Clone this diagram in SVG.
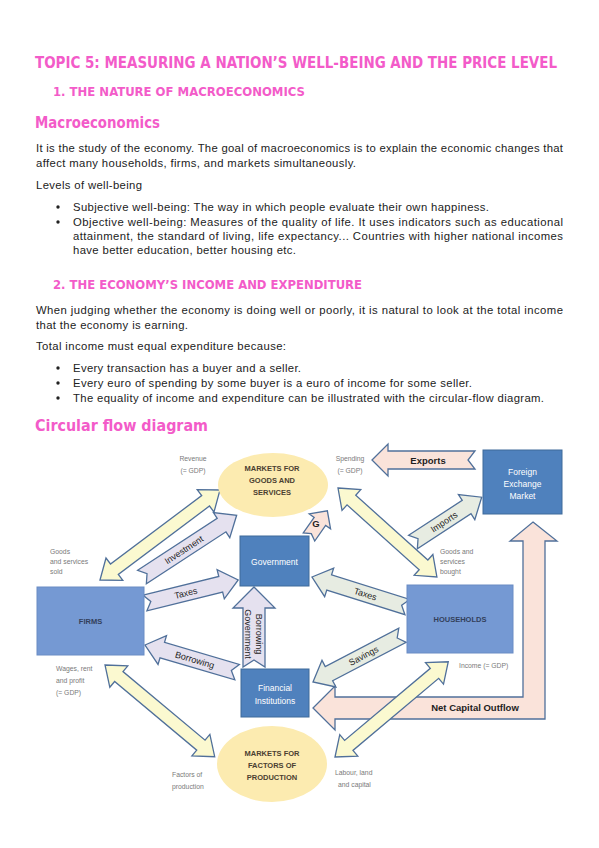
<svg xmlns="http://www.w3.org/2000/svg" width="599" height="848" viewBox="0 0 599 848">
<style>
.h{fill:#f35bc9;font-family:"DejaVu Sans Condensed","DejaVu Sans",sans-serif;font-weight:bold;}
.b{fill:#222;font-family:"Liberation Sans",Arial,sans-serif;font-size:11.3px;}
.arr{stroke:#50709a;stroke-width:1.3;stroke-linejoin:miter;}
.yel{fill:#fbf9d0;}
.lav{fill:#e5e1ef;}
.grn{fill:#e7ece2;}
.pnk{fill:#fae3da;}
.box{fill:#4f81bd;stroke:#3f6a9a;stroke-width:1;}
.box2{fill:#7599d3;stroke:#6a8cc4;stroke-width:1;}
.ell{fill:#fcebb0;}
.lbl{fill:#7a7a7a;font-family:"Liberation Sans",Arial,sans-serif;font-size:6.8px;}
.bt{fill:#fff;font-family:"Liberation Sans",Arial,sans-serif;font-size:8.5px;text-anchor:middle;}
.dt{fill:#4a4030;font-family:"Liberation Sans",Arial,sans-serif;font-size:7.5px;font-weight:bold;text-anchor:middle;}
.at{fill:#1e1e1e;font-family:"Liberation Sans",Arial,sans-serif;font-size:9px;text-anchor:middle;}
.atb{fill:#1e1e1e;font-family:"Liberation Sans",Arial,sans-serif;font-size:9.5px;font-weight:bold;text-anchor:middle;}
</style>
<rect width="599" height="848" fill="#fff"/>

<!-- headings -->
<text class="h" x="35" y="68" font-size="16" textLength="522" lengthAdjust="spacingAndGlyphs">TOPIC 5: MEASURING A NATION’S WELL-BEING AND THE PRICE LEVEL</text>
<text class="h" x="53" y="96" font-size="13" textLength="252" lengthAdjust="spacingAndGlyphs">1.  THE NATURE OF MACROECONOMICS</text>
<text class="h" x="35" y="128" font-size="15" textLength="125" lengthAdjust="spacingAndGlyphs">Macroeconomics</text>

<text class="b" x="36" y="152" textLength="527" lengthAdjust="spacing">It is the study of the economy. The goal of macroeconomics is to explain the economic changes that</text>
<text class="b" x="36" y="167" textLength="320" lengthAdjust="spacing">affect many households, firms, and markets simultaneously.</text>
<text class="b" x="36" y="189" textLength="106" lengthAdjust="spacing">Levels of well-being</text>
<circle cx="58" cy="207" r="1.7" fill="#222"/>
<text class="b" x="73" y="211" textLength="416" lengthAdjust="spacing">Subjective well-being: The way in which people evaluate their own happiness.</text>
<circle cx="58" cy="222" r="1.7" fill="#222"/>
<text class="b" x="73" y="226" textLength="490" lengthAdjust="spacing">Objective well-being: Measures of the quality of life. It uses indicators such as educational</text>
<text class="b" x="73" y="240" textLength="490" lengthAdjust="spacing">attainment, the standard of living, life expectancy... Countries with higher national incomes</text>
<text class="b" x="73" y="254" textLength="223" lengthAdjust="spacing">have better education, better housing etc.</text>

<text class="h" x="53" y="289" font-size="13" textLength="309" lengthAdjust="spacingAndGlyphs">2.  THE ECONOMY’S INCOME AND EXPENDITURE</text>
<text class="b" x="36" y="314" textLength="527" lengthAdjust="spacing">When judging whether the economy is doing well or poorly, it is natural to look at the total income</text>
<text class="b" x="36" y="329" textLength="152" lengthAdjust="spacing">that the economy is earning.</text>
<text class="b" x="36" y="350" textLength="250" lengthAdjust="spacing">Total income must equal expenditure because:</text>
<circle cx="58" cy="368" r="1.7" fill="#222"/>
<text class="b" x="73" y="372" textLength="228" lengthAdjust="spacing">Every transaction has a buyer and a seller.</text>
<circle cx="58" cy="383" r="1.7" fill="#222"/>
<text class="b" x="73" y="387" textLength="399" lengthAdjust="spacing">Every euro of spending by some buyer is a euro of income for some seller.</text>
<circle cx="58" cy="398" r="1.7" fill="#222"/>
<text class="b" x="73" y="402" textLength="471" lengthAdjust="spacing">The equality of income and expenditure can be illustrated with the circular-flow diagram.</text>
<text class="h" x="35" y="431" font-size="15" textLength="173" lengthAdjust="spacingAndGlyphs">Circular flow diagram</text>

<!-- connectors -->
<g id="connectors">
  <!-- net capital outflow L arrow -->
  <path class="arr pnk" d="M533,522 L557,541 L545,541 L545,719 L335,719 L335,730 L313,708 L335,686 L335,697 L523,697 L523,541 L510,541 Z"/>
  <text class="atb" x="475" y="711">Net Capital Outflow</text>

  <!-- yellow double arrows -->
  <path class="arr yel" transform="translate(100,580) rotate(-36.87)" d="M0,0 L18,-14 L18,-6.5 L132,-6.5 L132,-14 L150,0 L132,14 L132,6.5 L18,6.5 L18,14 Z"/>
  <path class="arr yel" transform="translate(338,488) rotate(41.96)" d="M0,0 L18,-14 L18,-6.5 L115,-6.5 L115,-14 L133,0 L115,14 L115,6.5 L18,6.5 L18,14 Z"/>
  <path class="arr yel" transform="translate(105,665) rotate(39.9)" d="M0,0 L18,-14 L18,-6.5 L125,-6.5 L125,-14 L143,0 L125,14 L125,6.5 L18,6.5 L18,14 Z"/>
  <path class="arr yel" transform="translate(335,757) rotate(-40.06)" d="M0,0 L18,-14 L18,-6.5 L130,-6.5 L130,-14 L148,0 L130,14 L130,6.5 L18,6.5 L18,14 Z"/>

  <!-- Investment -->
  <g transform="translate(142,577) rotate(-33.1)">
    <path class="arr lav" d="M0,-8 H95 V-15 L113,0 L95,15 V8 H0 L6,0 Z"/>
    <text class="at" x="50" y="3.3">Investment</text>
  </g>
  <!-- Taxes firms -->
  <g transform="translate(145,603) rotate(-13.9)">
    <path class="arr lav" d="M0,-8 H78 V-15 L96,0 L78,15 V8 H0 L6,0 Z"/>
    <text class="at" x="42" y="3.3">Taxes</text>
  </g>
  <!-- Borrowing -->
  <g transform="translate(145,645) rotate(16.4)">
    <path class="arr lav" d="M0,0 L18,-15 L18,-8 L96,-8 L90,0 L96,8 L18,8 L18,15 Z"/>
    <text class="at" x="52" y="3.3">Borrowing</text>
  </g>
  <!-- Taxes households -->
  <g transform="translate(312,577) rotate(17.5)">
    <path class="arr grn" d="M0,0 L18,-15 L18,-8 L100,-8 L94,0 L100,8 L18,8 L18,15 Z"/>
    <text class="at" x="56" y="3.3">Taxes</text>
  </g>
  <!-- Savings -->
  <g transform="translate(313,682) rotate(-27.6)">
    <path class="arr grn" d="M0,0 L18,-15 L18,-8 L101,-8 L95,0 L101,8 L18,8 L18,15 Z"/>
    <text class="at" x="57" y="3.3">Savings</text>
  </g>
  <!-- Imports -->
  <g transform="translate(413,542) rotate(-33.1)">
    <path class="arr grn" d="M0,-8 H64 V-15 L82,0 L64,15 V8 H0 L6,0 Z"/>
    <text class="at" x="37" y="3.3">Imports</text>
  </g>
  <!-- G -->
  <path class="arr pnk" transform="translate(309,537) rotate(-55)" d="M0,-7 H19 V-13 L32,0 L19,13 V7 H0 L4,0 Z"/>
  <text class="atb" x="316" y="527" font-size="9">G</text>
  <!-- Exports -->
  <path class="arr pnk" d="M372,460 L388,444 L388,451 L475,451 L468,460 L475,469 L388,469 L388,476 Z"/>
  <text class="atb" x="428" y="463.5">Exports</text>
  <!-- Government borrowing -->
  <path class="arr lav" d="M254,587 L275,608 L265,608 L265,667 L254,660 L243,667 L243,608 L233,608 Z"/>
  <text class="at" font-size="7.5" transform="translate(245,634) rotate(90)" x="0" y="0">Government</text>
  <text class="at" font-size="7.5" transform="translate(256,634) rotate(90)" x="0" y="0">Borrowing</text>
</g>

<!-- nodes -->
<g id="goods-market">
  <ellipse class="ell" cx="273" cy="485" rx="55" ry="32"/>
  <text class="dt" x="272" y="471">MARKETS FOR</text>
  <text class="dt" x="272" y="483">GOODS AND</text>
  <text class="dt" x="272" y="495">SERVICES</text>
</g>
<g id="factor-market">
  <ellipse class="ell" cx="272" cy="764" rx="55" ry="38"/>
  <text class="dt" x="272" y="756">MARKETS FOR</text>
  <text class="dt" x="272" y="768">FACTORS OF</text>
  <text class="dt" x="272" y="780">PRODUCTION</text>
</g>
<g id="government">
  <rect class="box" x="240" y="536" width="69" height="50"/>
  <text class="bt" x="274.5" y="565">Government</text>
</g>
<g id="financial">
  <rect class="box" x="241" y="669" width="68" height="48"/>
  <text class="bt" x="275" y="691">Financial</text>
  <text class="bt" x="275" y="703.5">Institutions</text>
</g>
<g id="fem">
  <rect class="box" x="483" y="450" width="79" height="64"/>
  <text class="bt" x="522.5" y="475">Foreign</text>
  <text class="bt" x="522.5" y="487">Exchange</text>
  <text class="bt" x="522.5" y="499">Market</text>
</g>
<g id="firms">
  <rect class="box2" x="37" y="587" width="107" height="68"/>
  <text class="dt" x="90.5" y="624" style="fill:#33405a">FIRMS</text>
</g>
<g id="households">
  <rect class="box2" x="407" y="585" width="106" height="68"/>
  <text class="dt" x="460" y="622" style="fill:#33405a">HOUSEHOLDS</text>
</g>

<!-- labels -->
<g id="labels">
  <text class="lbl" x="193" y="461" text-anchor="middle">Revenue</text>
  <text class="lbl" x="193" y="473" text-anchor="middle">(= GDP)</text>
  <text class="lbl" x="350" y="461" text-anchor="middle">Spending</text>
  <text class="lbl" x="350" y="473" text-anchor="middle">(= GDP)</text>
  <text class="lbl" x="50" y="554">Goods</text>
  <text class="lbl" x="50" y="564">and services</text>
  <text class="lbl" x="50" y="574">sold</text>
  <text class="lbl" x="440" y="554">Goods and</text>
  <text class="lbl" x="440" y="564">services</text>
  <text class="lbl" x="440" y="574">bought</text>
  <text class="lbl" x="56" y="671" font-size="7.5">Wages, rent</text>
  <text class="lbl" x="56" y="683" font-size="7.5">and profit</text>
  <text class="lbl" x="56" y="695" font-size="7.5">(= GDP)</text>
  <text class="lbl" x="459" y="668" font-size="7.5">Income (= GDP)</text>
  <text class="lbl" x="172" y="777" font-size="7.5">Factors of</text>
  <text class="lbl" x="172" y="789" font-size="7.5">production</text>
  <text class="lbl" x="335" y="775" font-size="7.5">Labour, land</text>
  <text class="lbl" x="338" y="787" font-size="7.5">and capital</text>
</g>
</svg>
